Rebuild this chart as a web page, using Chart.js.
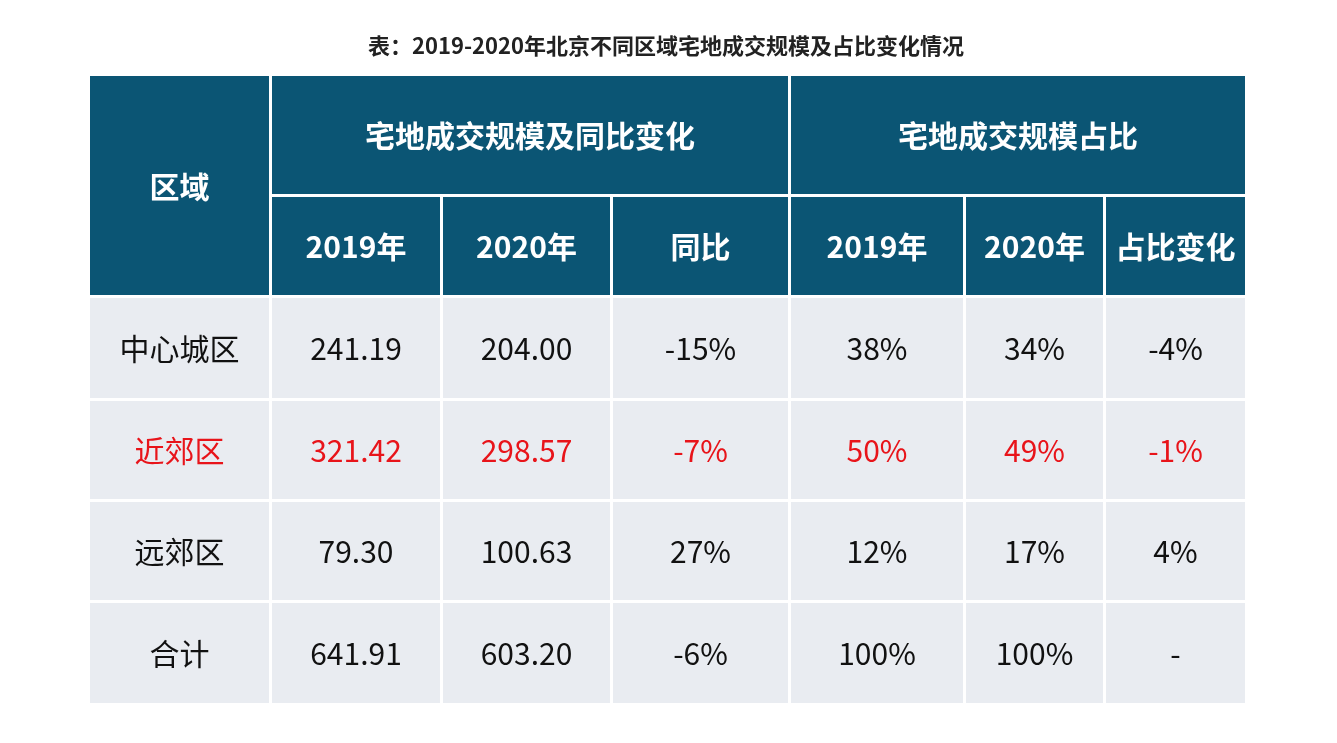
<!DOCTYPE html>
<html><head><meta charset="utf-8">
<script src="https://cdn.jsdelivr.net/npm/chart.js@4/dist/chart.umd.min.js"></script>
<style>html,body{margin:0;background:#fff}#wrap{width:1337px;height:743px}</style>
</head><body><div id="wrap"><canvas id="c"></canvas></div>
<script>
'use strict';

const TITLE = '表：2019-2020年北京不同区域宅地成交规模及占比变化情况';
const GROUP_HEADERS = ['宅地成交规模及同比变化', '宅地成交规模占比'];
const SUB_HEADERS = ['2019年', '2020年', '同比', '2019年', '2020年', '占比变化'];
const REGIONS = ['中心城区', '近郊区', '远郊区', '合计'];
const SCALE_2019 = ['241.19', '321.42', '79.30', '641.91'];
const SCALE_2020 = ['204.00', '298.57', '100.63', '603.20'];
const YOY = ['-15%', '-7%', '27%', '-6%'];
const SHARE_2019 = ['38%', '50%', '12%', '100%'];
const SHARE_2020 = ['34%', '49%', '17%', '100%'];
const SHARE_CHANGE = ['-4%', '-1%', '4%', '-'];
const HIGHLIGHT_ROW = 1;

// layout (scale units = px of the table grid)
const COL_EDGES = [[90, 269], [272, 440], [443, 610], [613, 788], [791, 963], [966, 1103], [1106, 1245]];
const ROW_EDGES = [[76, 194], [197, 295], [298, 398], [401, 499], [502, 600], [603, 703]];
const HEAD_BG = '#0b5574';
const CELL_BG = '#e9ecf1';
const FONT = '"Noto Sans CJK SC", "Noto Sans", sans-serif';

const tablePlugin = {
  id: 'table',
  afterDraw(chart) {
    const { ctx } = chart;
    const xs = chart.scales.x, ys = chart.scales.y;
    const box = (c0, c1, r0, r1) => {
      const x0 = xs.getPixelForValue(COL_EDGES[c0][0]), x1 = xs.getPixelForValue(COL_EDGES[c1][1]);
      const y0 = ys.getPixelForValue(ROW_EDGES[r0][0]), y1 = ys.getPixelForValue(ROW_EDGES[r1][1]);
      return { x0, x1, y0, y1 };
    };
    const cell = (c0, c1, r0, r1, bg, text, color, font) => {
      const b = box(c0, c1, r0, r1);
      ctx.fillStyle = bg;
      ctx.fillRect(b.x0, b.y0, b.x1 - b.x0, b.y1 - b.y0);
      ctx.fillStyle = color;
      ctx.font = font;
      ctx.textAlign = 'center';
      ctx.textBaseline = 'middle';
      ctx.fillText(text, (b.x0 + b.x1) / 2, (b.y0 + b.y1) / 2 + 1);
    };
    ctx.save();
    ctx.fillStyle = '#222';
    ctx.font = `bold 22px ${FONT}`;
    ctx.textAlign = 'center';
    ctx.textBaseline = 'middle';
    ctx.fillText(TITLE, 666, 46);

    const hf = `bold 30px ${FONT}`;
    cell(0, 0, 0, 1, HEAD_BG, '区域', '#fff', hf);
    cell(1, 3, 0, 0, HEAD_BG, GROUP_HEADERS[0], '#fff', hf);
    cell(4, 6, 0, 0, HEAD_BG, GROUP_HEADERS[1], '#fff', hf);
    SUB_HEADERS.forEach((t, i) => cell(i + 1, i + 1, 1, 1, HEAD_BG, t, '#fff', hf));

    const cols = [REGIONS, SCALE_2019, SCALE_2020, YOY, SHARE_2019, SHARE_2020, SHARE_CHANGE];
    const df = `30px ${FONT}`;
    REGIONS.forEach((_, r) => {
      const color = r === HIGHLIGHT_ROW ? '#e8141a' : '#111';
      cols.forEach((col, c) => cell(c, c, r + 2, r + 2, CELL_BG, col[r], color, df));
    });
    ctx.restore();
  },
};

new Chart(document.getElementById('c'), {
  type: 'scatter',
  data: { datasets: [{ data: [] }] },
  plugins: [tablePlugin],
  options: {
    responsive: true,
    maintainAspectRatio: false,
    animation: false,
    layout: { padding: { left: 90, right: 92, top: 76, bottom: 40 } },
    plugins: { legend: { display: false }, tooltip: { enabled: false } },
    scales: {
      x: { type: 'linear', min: 90, max: 1245, display: false },
      y: { type: 'linear', min: 76, max: 703, reverse: true, display: false },
    },
  },
});
</script>
</body></html>
